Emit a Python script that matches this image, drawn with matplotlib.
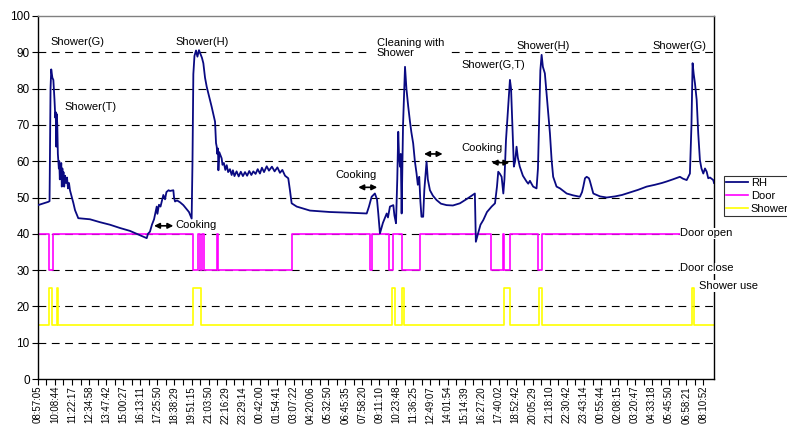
import numpy as np
import matplotlib
matplotlib.use('Agg')
import matplotlib.pyplot as plt

plt.rcParams['font.family'] = ['Liberation Sans', 'DejaVu Sans']

### data: hours elapsed since 08:57:05 on the first day
tick_labels = ['08:57:05', '10:08:44', '11:22:17', '12:34:58', '13:47:42', '15:00:27',
               '16:13:11', '17:25:50', '18:38:29', '19:51:15', '21:03:50', '22:16:29',
               '23:29:14', '00:42:00', '01:54:41', '03:07:22', '04:20:06', '05:32:50',
               '06:45:35', '07:58:20', '09:11:10', '10:23:48', '11:36:25', '12:49:07',
               '14:01:54', '15:14:39', '16:27:20', '17:40:02', '18:52:42', '20:05:29',
               '21:18:10', '22:30:42', '23:43:14', '00:55:44', '02:08:15', '03:20:47',
               '04:33:18', '05:45:50', '06:58:21', '08:10:52']

rh_t = [0.00, 0.73, 0.82, 0.89, 0.94, 1.02, 1.09, 1.17, 1.23, 1.26, 1.30, 1.33, 1.37, 1.41,
        1.44, 1.48, 1.51, 1.55, 1.58, 1.62, 1.65, 1.69, 1.73, 1.76, 1.81, 1.86, 1.92, 1.99,
        2.06, 2.13, 2.20, 2.27, 2.34, 2.41, 2.51, 2.63, 2.86, 3.69, 4.40, 5.11, 5.82, 6.53,
        7.24, 7.72, 7.81, 7.95, 8.09, 8.24, 8.43, 8.48, 8.59, 8.70, 8.90, 9.02, 9.12, 9.27,
        9.37, 9.61, 9.66, 9.73, 9.87, 10.08, 10.32, 10.51, 10.72, 10.91, 10.97, 11.03, 11.11,
        11.22, 11.32, 11.43, 11.54, 11.64, 11.74, 11.86, 11.98, 12.14, 12.33, 12.50, 12.57,
        12.64, 12.69, 12.73, 12.78, 12.81, 12.87, 13.04, 13.10, 13.20, 13.30, 13.40, 13.50,
        13.63, 13.75, 13.84, 13.95, 14.10, 14.25, 14.40, 14.55, 14.70, 14.85, 15.00, 15.15,
        15.29, 15.45, 15.60, 15.76, 15.90, 16.05, 16.24, 16.40, 16.61, 16.80, 17.00, 17.18,
        17.35, 17.54, 17.77, 17.89, 18.01, 18.37, 19.31, 20.73, 22.15, 23.34, 23.50, 23.69,
        23.92, 24.07, 24.16, 24.28, 24.49, 24.76, 24.85, 24.99, 25.23, 25.31, 25.42, 25.51,
        25.58, 25.63, 25.70, 25.76, 25.82, 25.92, 26.06, 26.16, 26.29, 26.41, 26.51, 26.64,
        26.76, 26.88, 26.97, 27.07, 27.15, 27.23, 27.35, 27.43, 27.59, 27.68, 27.83, 28.04,
        28.30, 28.61, 29.01, 29.46, 29.96, 30.53, 31.02, 31.09, 31.24, 31.42, 31.62, 31.88,
        32.21, 32.45, 32.59, 32.68, 32.80, 32.92, 33.04, 33.12, 33.23, 33.37, 33.51, 33.59,
        33.70, 33.79, 33.88, 33.98, 34.07, 34.21, 34.43, 34.69, 34.81, 34.93, 35.04, 35.16,
        35.40, 35.50, 35.59, 35.67, 35.76, 35.85, 35.99, 36.17, 36.35, 36.47, 36.58, 36.82,
        37.07, 37.54, 37.99, 38.48, 38.63, 38.72, 38.84, 38.96, 39.12, 39.19, 39.43, 39.91,
        40.38, 40.97, 41.47, 42.03, 42.60, 43.22, 43.80, 44.30, 44.63, 45.08, 45.58, 45.79,
        46.06, 46.29, 46.40, 46.48, 46.56, 46.65, 46.77, 46.88, 47.00, 47.11, 47.24, 47.36,
        47.48, 47.59, 47.72, 47.95, 48.00]
rh_v = [47.9, 48.8, 49.0, 80.0, 85.3, 83.0, 82.4, 77.0, 72.0, 73.5, 64.0, 73.0, 70.0, 62.0,
        60.3, 58.0, 60.0, 55.0, 59.0, 56.0, 59.5, 53.0, 58.0, 55.0, 57.0, 53.0, 56.0, 54.0,
        55.5, 52.5, 54.0, 52.0, 51.0, 50.0, 48.5, 46.5, 44.3, 44.0, 43.2, 42.5, 41.6, 40.8,
        39.6, 38.8, 40.0, 40.6, 42.5, 44.0, 47.5, 45.5, 48.0, 47.5, 50.7, 49.5, 51.5, 52.0,
        51.8, 52.0, 50.0, 48.9, 49.2, 48.7, 47.9, 47.0, 46.0, 44.2, 60.0, 84.0, 89.0,
        90.5, 88.8, 90.6, 89.5, 88.5, 87.0, 83.0, 80.5, 78.0, 75.0, 72.0, 70.9,
        65.0, 64.0, 62.0, 63.5, 57.5, 62.5, 60.8, 59.0, 59.5, 57.6, 58.9, 57.0,
        57.8, 56.2, 57.5, 55.9, 57.2, 55.8, 57.1, 55.9, 57.0, 56.0, 57.3, 56.2,
        57.2, 56.5, 57.8, 56.6, 58.2, 57.0, 58.6, 57.4, 58.5, 57.2, 58.3, 56.8,
        57.6, 56.0, 55.3, 52.0, 48.4, 47.5, 46.4, 46.0, 45.8, 45.6, 47.5, 50.2,
        51.1, 49.5, 45.7, 40.1, 43.0, 45.6, 44.5, 47.5, 47.9, 45.0, 42.9, 55.0,
        68.1, 62.0, 58.5, 62.0, 45.6, 70.0, 86.0, 80.0, 75.0, 71.0, 68.0, 64.9,
        60.0, 56.6, 53.5, 55.7, 49.0, 44.7, 44.7, 52.0, 59.9, 55.0, 52.0, 50.5,
        49.3, 48.3, 47.9, 47.8, 48.4, 49.8, 51.1, 37.8, 40.0, 42.5, 43.8, 46.0,
        47.5, 48.4, 53.0, 57.1, 56.5, 55.7, 51.1, 55.0, 65.8, 74.0, 82.4, 80.0,
        68.6, 58.5, 60.0, 64.0, 61.0, 58.5, 56.0, 54.4, 53.8, 54.6, 53.8, 53.0,
        52.5, 58.0, 72.3, 85.0, 89.3, 86.0, 84.2, 76.0, 67.7, 60.3, 55.7, 53.0,
        52.5, 51.1, 50.6, 50.2, 51.5, 53.0, 55.3, 55.7, 55.3, 54.5, 51.1, 50.3,
        50.0, 50.3, 50.7, 51.4, 52.1, 53.0, 53.5, 54.0, 54.4, 55.0, 55.7, 55.2,
        54.8, 56.6, 70.0, 87.0, 84.0, 81.4, 76.9, 67.7, 60.3, 58.0, 56.6, 58.0,
        57.1, 55.3, 55.5, 54.8, 54.0]

# door: 40 = open, 30 = close (step changes)
door_t = [0.00, 0.02, 0.80, 1.03, 11.03, 11.38, 11.50, 11.62, 11.82, 12.69, 12.80, 18.01,
          23.57, 23.69, 24.94, 25.19, 25.87, 27.12, 32.17, 33.03, 33.07, 33.51, 35.48, 35.81, 48.00]
door_v = [30, 40, 30, 40, 30, 40, 30, 40, 30, 40, 30, 40,
          30, 40, 30, 40, 30, 40, 30, 40, 30, 40, 30, 40, 40]

# shower: 25 = in use, 15 = not used
shower_t = [0.00, 0.80, 1.02, 1.37, 1.44, 10.99, 11.57, 25.11, 25.35, 25.87, 26.01,
            33.09, 33.51, 35.57, 35.81, 46.46, 46.56, 48.00]
shower_v = [15, 25, 15, 25, 15, 25, 15, 25, 15, 25, 15, 25, 15, 25, 15, 25, 15, 15]

# tick positions from the label times
def to_hours(labels):
    out = []
    day = 0
    prev = None
    for s in labels:
        h, m, sec = [int(p) for p in s.split(':')]
        v = h + m / 60 + sec / 3600
        if prev is not None and v + day * 24 < prev:
            day += 1
        v += day * 24
        out.append(v)
        prev = v
    out = np.array(out)
    return out - out[0]

tick_pos = to_hours(tick_labels)

fig = plt.figure(figsize=(7.87, 4.25), dpi=100)
ax = fig.add_axes([38 / 787, 1 - 379 / 425, 676 / 787, 363 / 425])

for g in range(10, 100, 10):
    ax.axhline(g, color='black', lw=0.8, dashes=(7, 5), zorder=1)

ax.plot(rh_t, rh_v, color='#0a0a82', lw=1.3, label='RH', zorder=3)
ax.plot(door_t, door_v, color='#ff00ff', lw=1.2, drawstyle='steps-post', label='Door', zorder=2)
ax.plot(shower_t, shower_v, color='#ffff00', lw=1.2, drawstyle='steps-post', label='Shower', zorder=2)

ax.set_xlim(0, 48)
ax.set_ylim(0, 100)
ax.set_yticks(range(0, 101, 10))
ax.set_xticks(tick_pos)
ax.set_xticklabels(tick_labels, rotation=90, fontsize=7)
ax.set_xticks((tick_pos[:-1] + tick_pos[1:]) / 2, minor=True)
ax.tick_params(axis='x', which='major', length=4, width=0.8, pad=1)
ax.tick_params(axis='x', which='minor', length=4, width=0.8)
ax.tick_params(axis='y', length=4, width=0.8, labelsize=8.5, pad=2)

for s in ['left', 'bottom', 'right']:
    ax.spines[s].set_color('black')
    ax.spines[s].set_linewidth(1.0)
ax.spines['top'].set_color('#808080')
ax.spines['top'].set_linewidth(1.0)

# annotations
txt = dict(fontsize=8, va='center', ha='left')
ax.text(0.90, 92.8, 'Shower(G)', **txt)
ax.text(1.87, 74.8, 'Shower(T)', **txt)
ax.text(9.78, 92.8, 'Shower(H)', **txt)
ax.text(24.05, 91.1, 'Cleaning with\nShower', fontsize=8, va='center', ha='left', linespacing=1.0,
        bbox=dict(facecolor='white', edgecolor='none', pad=5), zorder=4)
ax.text(30.09, 86.5, 'Shower(G,T)', **txt)
ax.text(33.99, 91.8, 'Shower(H)', **txt)
ax.text(43.65, 91.8, 'Shower(G)', **txt)
ax.text(9.78, 42.4, 'Cooking', **txt)
ax.text(21.09, 56.2, 'Cooking', **txt)
ax.text(30.09, 63.7, 'Cooking', **txt)

box = dict(facecolor='white', edgecolor='none', pad=0.5)
ax.text(45.62, 40.1, 'Door open', fontsize=8, va='center', ha='left', bbox=box, zorder=5)
ax.text(45.62, 30.5, 'Door close', fontsize=8, va='center', ha='left', bbox=box, zorder=5)
ax.text(46.95, 25.6, 'Shower use', fontsize=8, va='center', ha='left', bbox=box, zorder=5,
        clip_on=False)

arrows = [(8.24, 9.61, 42.2), (22.74, 24.09, 52.8), (27.41, 28.73, 62.0), (32.21, 33.47, 59.6)]
for x0, x1, y in arrows:
    ax.annotate('', xy=(x1, y), xytext=(x0, y),
                arrowprops=dict(arrowstyle='<|-|>', color='black', lw=1.2,
                                mutation_scale=8, shrinkA=0, shrinkB=0))

leg = fig.legend(loc='upper left', bbox_to_anchor=(724 / 787, 1 - 176 / 425), fontsize=8,
                 frameon=True, fancybox=False, edgecolor='black', borderpad=0.2,
                 labelspacing=0.25, handlelength=2.0, handletextpad=0.2, borderaxespad=0)
leg.get_frame().set_linewidth(0.8)

plt.savefig('out.png', dpi=100)
